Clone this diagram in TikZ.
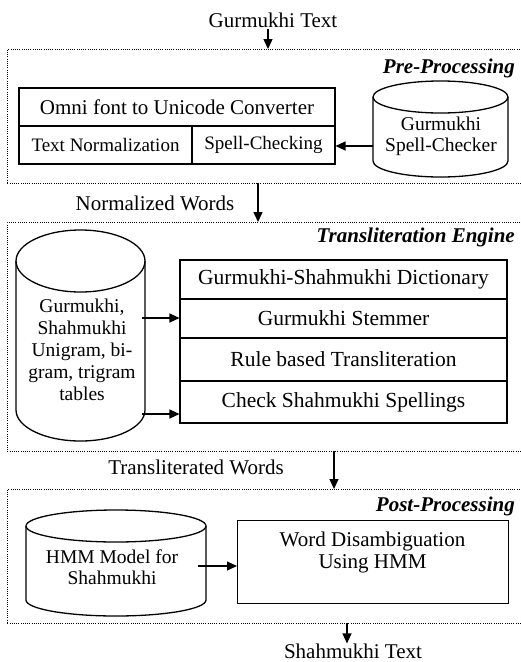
\documentclass[tikz,border=0pt]{standalone}
\usepackage{fontspec}
\setmainfont{Liberation Serif}
\usetikzlibrary{arrows.meta}
\tikzset{
  dotbox/.style={draw, line width=0.8pt, dash pattern=on 0.8pt off 1.4pt, anchor=north west, inner sep=0pt, minimum width=540pt},
  cellbig/.style={draw, line width=1.1pt, inner sep=0pt, font=\fontsize{21}{23}\selectfont},
  rowcell/.style={draw, line width=1.1pt, inner sep=0pt, font=\fontsize{21.5}{23}\selectfont, minimum width=327pt},
  cellsmall/.style={draw, line width=1.1pt, inner sep=0pt, font=\fontsize{19}{21}\selectfont},
  can/.style={line width=1.3pt},
  arr/.style={-{Triangle[length=10pt,width=9pt]}, line width=1.3pt},
  lbl/.style={font=\fontsize{21}{23}\selectfont, inner sep=0pt},
  sect/.style={font=\fontsize{21}{23}\selectfont\bfseries\itshape, inner sep=0pt, anchor=base east},
  smalltxt/.style={font=\fontsize{19.5}{21}\selectfont, inner sep=0pt, align=center},
  bigtxt/.style={font=\fontsize{21}{22}\selectfont, inner sep=0pt, align=center},
}
\begin{document}
\begin{tikzpicture}[x=1pt,y=-1pt]
\useasboundingbox (0,0) rectangle (521,662);
\clip (0,0) rectangle (521,662);

% ---------- Pre-Processing ----------
\node[lbl] (gt) at (273,20) {Gurmukhi Text};
\node[dotbox, minimum height=134pt] (pre) at (7,49) {};
\node[sect] (prelbl) at (515,73) {Pre-Processing};
\node[cellbig, minimum width=316pt, minimum height=38pt] (omni) at (177,107) {Omni font to Unicode Converter};
\node[cellsmall, minimum width=173pt, minimum height=38pt] (tn) at (105.5,145) {Text Normalization};
\node[cellsmall, minimum width=143pt, minimum height=38pt] (sc) at (263.5,145) {Spell-Checking};
% cylinder: L=373 R=508 T=81 B=177 ry=16
\draw[can] (440.5,97) ellipse [x radius=67.5pt, y radius=16pt];
\draw[can] (373,97) -- (373,161) arc[start angle=180, end angle=360, x radius=67.5pt, y radius=16pt] -- (508,97);
\node[smalltxt] (gsc) at (441,136) {Gurmukhi\\Spell-Checker};
\coordinate (gscl) at (373,146);
\draw[arr] (gscl) -- (gscl -| sc.east);
\coordinate (gta) at (268,29);
\draw[arr] (gta) -- (gta |- pre.north);

% ---------- Transliteration Engine ----------
\node[lbl] (nw) at (155,203) {Normalized Words};
\node[dotbox, minimum height=229pt] (tre) at (7,222) {};
\node[sect] (trelbl) at (515,242) {Transliteration Engine};
\coordinate (nwa) at (258,183);
\draw[arr] (nwa) -- (nwa |- tre.north);
% cylinder: L=16 R=145 T=230 B=441 ry=31
\draw[can] (80.5,261) ellipse [x radius=64.5pt, y radius=31pt];
\draw[can] (16,261) -- (16,410) arc[start angle=180, end angle=360, x radius=64.5pt, y radius=31pt] -- (145,261);
\node[smalltxt, font=\fontsize{19.5}{22}\selectfont] (ngr) at (82,350) {Gurmukhi,\\Shahmukhi\\Unigram, bi-\\gram, trigram\\tables};
\node[rowcell, minimum height=39pt] (r1) at (343.5,279.5) {Gurmukhi-Shahmukhi Dictionary};
\node[rowcell, minimum height=39pt] (r2) at (343.5,318.5) {Gurmukhi Stemmer};
\node[rowcell, minimum height=43pt] (r3) at (343.5,359.5) {Rule based Transliteration};
\node[rowcell, minimum height=42pt] (r4) at (343.5,402) {Check Shahmukhi Spellings};
\coordinate (ta1) at (142,318);
\draw[arr] (ta1) -- (ta1 -| r2.west);
\coordinate (ta2) at (142,414);
\draw[arr] (ta2) -- (ta2 -| r4.west);

% ---------- Post-Processing ----------
\node[lbl] (tw) at (196,467) {Transliterated Words};
\node[dotbox, minimum height=134pt] (post) at (7,489) {};
\node[sect] (postlbl) at (515,511) {Post-Processing};
\coordinate (twa) at (334,451);
\draw[arr] (twa) -- (twa |- post.north);
% cylinder: L=26 R=206 T=510 B=616 ry=16
\draw[can] (116,526) ellipse [x radius=90pt, y radius=16pt];
\draw[can] (26,526) -- (26,600) arc[start angle=180, end angle=360, x radius=90pt, y radius=16pt] -- (206,526);
\node[smalltxt] (hmm) at (112,567) {HMM Model for\\Shahmukhi};
\node[draw, line width=1.3pt, inner sep=0pt, minimum width=271pt, minimum height=83pt, anchor=north west] (wd) at (237,520) {};
\node[bigtxt] (wdt) at (372.5,552) {Word Disambiguation\\Using HMM};
\coordinate (hmma) at (198,566);
\draw[arr] (hmma) -- (hmma -| wd.west);
\coordinate (sta) at (347,623);
\node[lbl] (st) at (353,651) {Shahmukhi Text};
\draw[arr] (sta) -- (st.north -| sta);
\end{tikzpicture}
\end{document}
